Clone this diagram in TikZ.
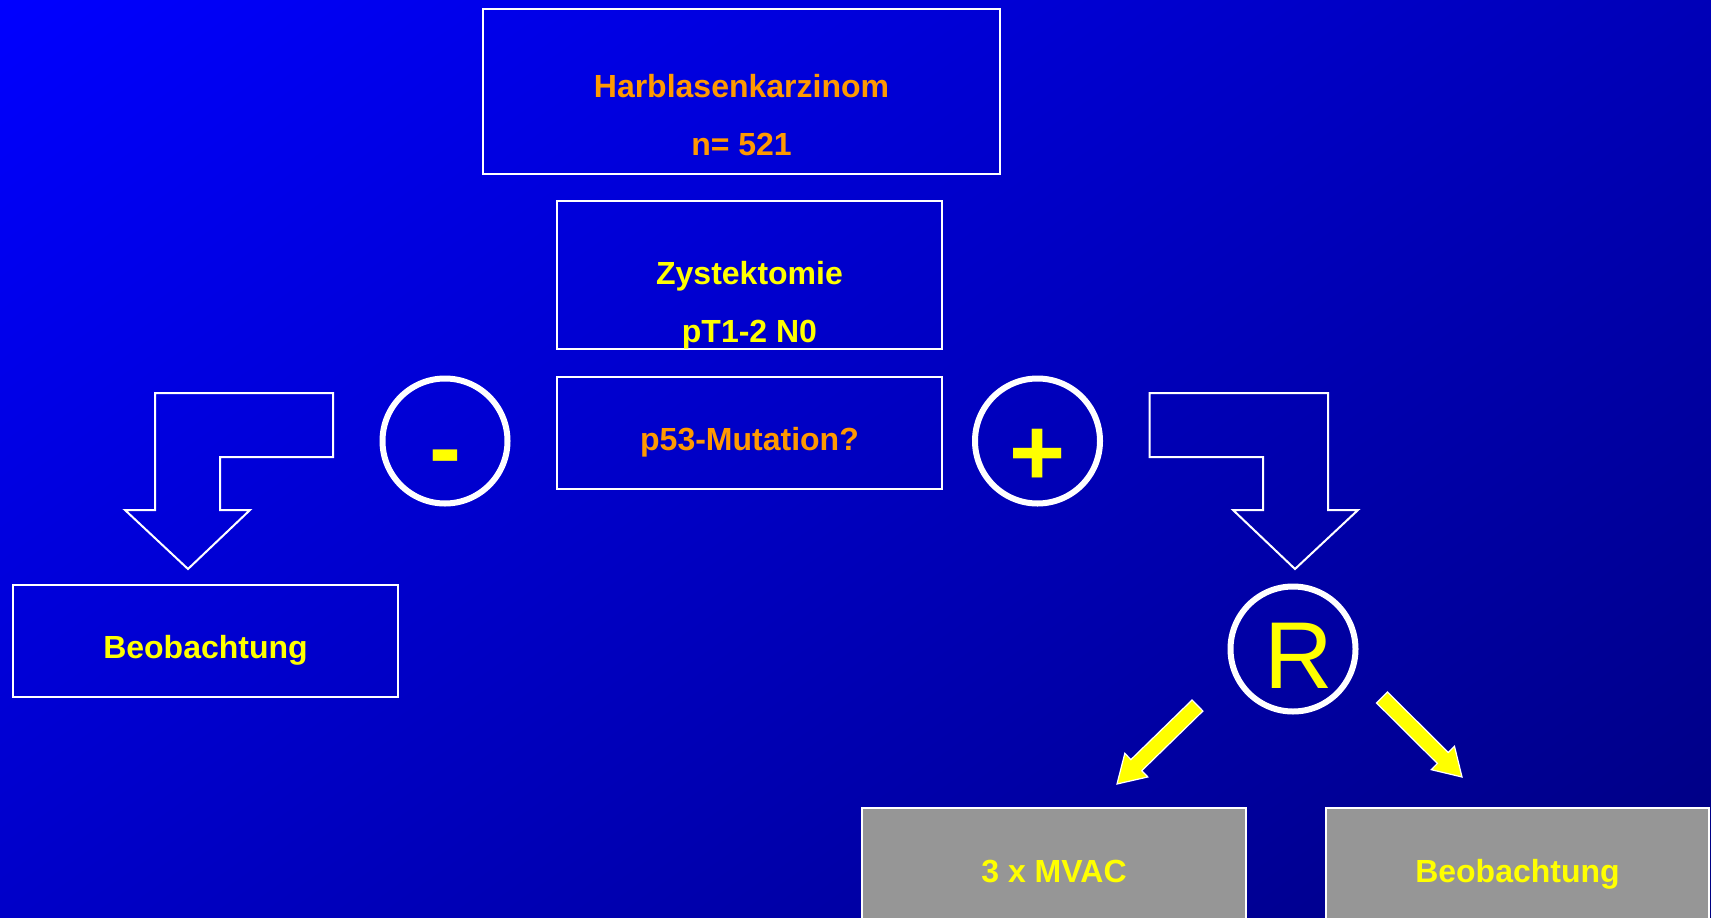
\documentclass[tikz,border=0pt]{standalone}
\usepackage{fontspec}
\setmainfont{Liberation Sans}
\usetikzlibrary{calc}
\definecolor{bgA}{HTML}{0000FF}
\definecolor{bgB}{HTML}{000080}
\definecolor{txtO}{HTML}{FF9900}
\definecolor{txtY}{HTML}{FFFF00}
\definecolor{boxG}{HTML}{969696}
\newcommand\yblock[2]{%
  \coordinate (#1h) at ($(#2)!27pt!(#1)$);
  \draw[yarrow] ($(#1)!7.75pt!90:(#2)$) -- ($(#1h)!7.75pt!-90:(#1)$) -- ($(#1h)!16.5pt!-90:(#1)$) -- (#2) -- ($(#1h)!16.5pt!90:(#1)$) -- ($(#1h)!7.75pt!90:(#1)$) -- ($(#1)!7.75pt!-90:(#2)$) -- cycle;}
\begin{document}
\begin{tikzpicture}[x=1pt,y=-1pt,
  frame/.style={draw=white, line width=2pt, inner sep=0pt},
  graybox/.style={frame, fill=boxG},
  lbl/.style={font=\fontsize{32}{38}\selectfont\bfseries, anchor=base, inner sep=0pt},
  ring/.style={draw=white, line width=6pt, circle, minimum size=125pt, inner sep=0pt},
  bigsym/.style={anchor=base, inner sep=0pt, text=txtY},
  bentarrow/.style={draw=white, line width=2pt, line join=miter},
  yarrow/.style={fill=txtY, draw=white, line width=1.2pt, line join=miter}]
\useasboundingbox (0,0) rectangle (1711,918);
\clip (0,0) rectangle (1711,918);
\begin{scope}[transform canvas={rotate=-55}]
\shade[left color=bgA, right color=bgB] (0pt,-540pt) rectangle (1740pt,1410pt);
\end{scope}

% boxes
\node[frame, minimum width=517pt, minimum height=165pt] (top) at (741.5,91.5) {};
\node[frame, minimum width=385pt, minimum height=148pt] (zyst) at (749.5,275) {};
\node[frame, minimum width=385pt, minimum height=112pt] (p53) at (749.5,433) {};
\node[frame, minimum width=385pt, minimum height=112pt] (beobL) at (205.5,641) {};
\node[graybox, minimum width=384pt, minimum height=124pt] (mvac) at (1054,870) {};
\node[graybox, minimum width=383pt, minimum height=124pt] (beobR) at (1517.5,870) {};

% texts
\node[lbl, text=txtO] (t1) at (741.5,97) {Harblasenkarzinom};
\node[lbl, text=txtO] (t2) at (741.5,155) {n= 521};
\node[lbl, text=txtY] (t3) at (749.5,284) {Zystektomie};
\node[lbl, text=txtY] (t4) at (749.5,342) {pT1-2 N0};
\node[lbl, text=txtO] (t5) at (749.5,450) {p53-Mutation?};
\node[lbl, text=txtY] (t6) at (205.5,658) {Beobachtung};
\node[lbl, text=txtY] (t7) at (1054,882) {3 x MVAC};
\node[lbl, text=txtY] (t8) at (1517.5,882) {Beobachtung};

% circles
\node[ring] (minus) at (445,441) {};
\node[ring] (plus) at (1037.5,441) {};
\node[ring] (rand) at (1293,649) {};
\node[bigsym, font=\fontsize{96}{100}\selectfont\bfseries] (ms) at (445,480) {-};
\node[bigsym, font=\fontsize{96}{100}\selectfont\bfseries] (ps) at (1037.5,485) {+};
\node[bigsym, font=\fontsize{95}{100}\selectfont] (rs) at (1299,688) {R};

% bent outline arrows
\draw[bentarrow] (155,393) -- (333,393) -- (333,457) -- (220,457) -- (220,510) -- (250,510) -- (188,569) -- (125,510) -- (155,510) -- cycle;
\draw[bentarrow] (1149.5,393) -- (1328,393) -- (1328,510) -- (1358,510) -- (1295,569) -- (1233,510) -- (1263,510) -- (1263,457) -- (1149.5,457) -- cycle;

% yellow arrows
\coordinate (ya) at (1197.5,705.5);
\coordinate (yb) at (1117,784);
\coordinate (yc) at (1382,697.5);
\coordinate (yd) at (1462,777);
\yblock{ya}{yb}
\yblock{yc}{yd}
\end{tikzpicture}
\end{document}
